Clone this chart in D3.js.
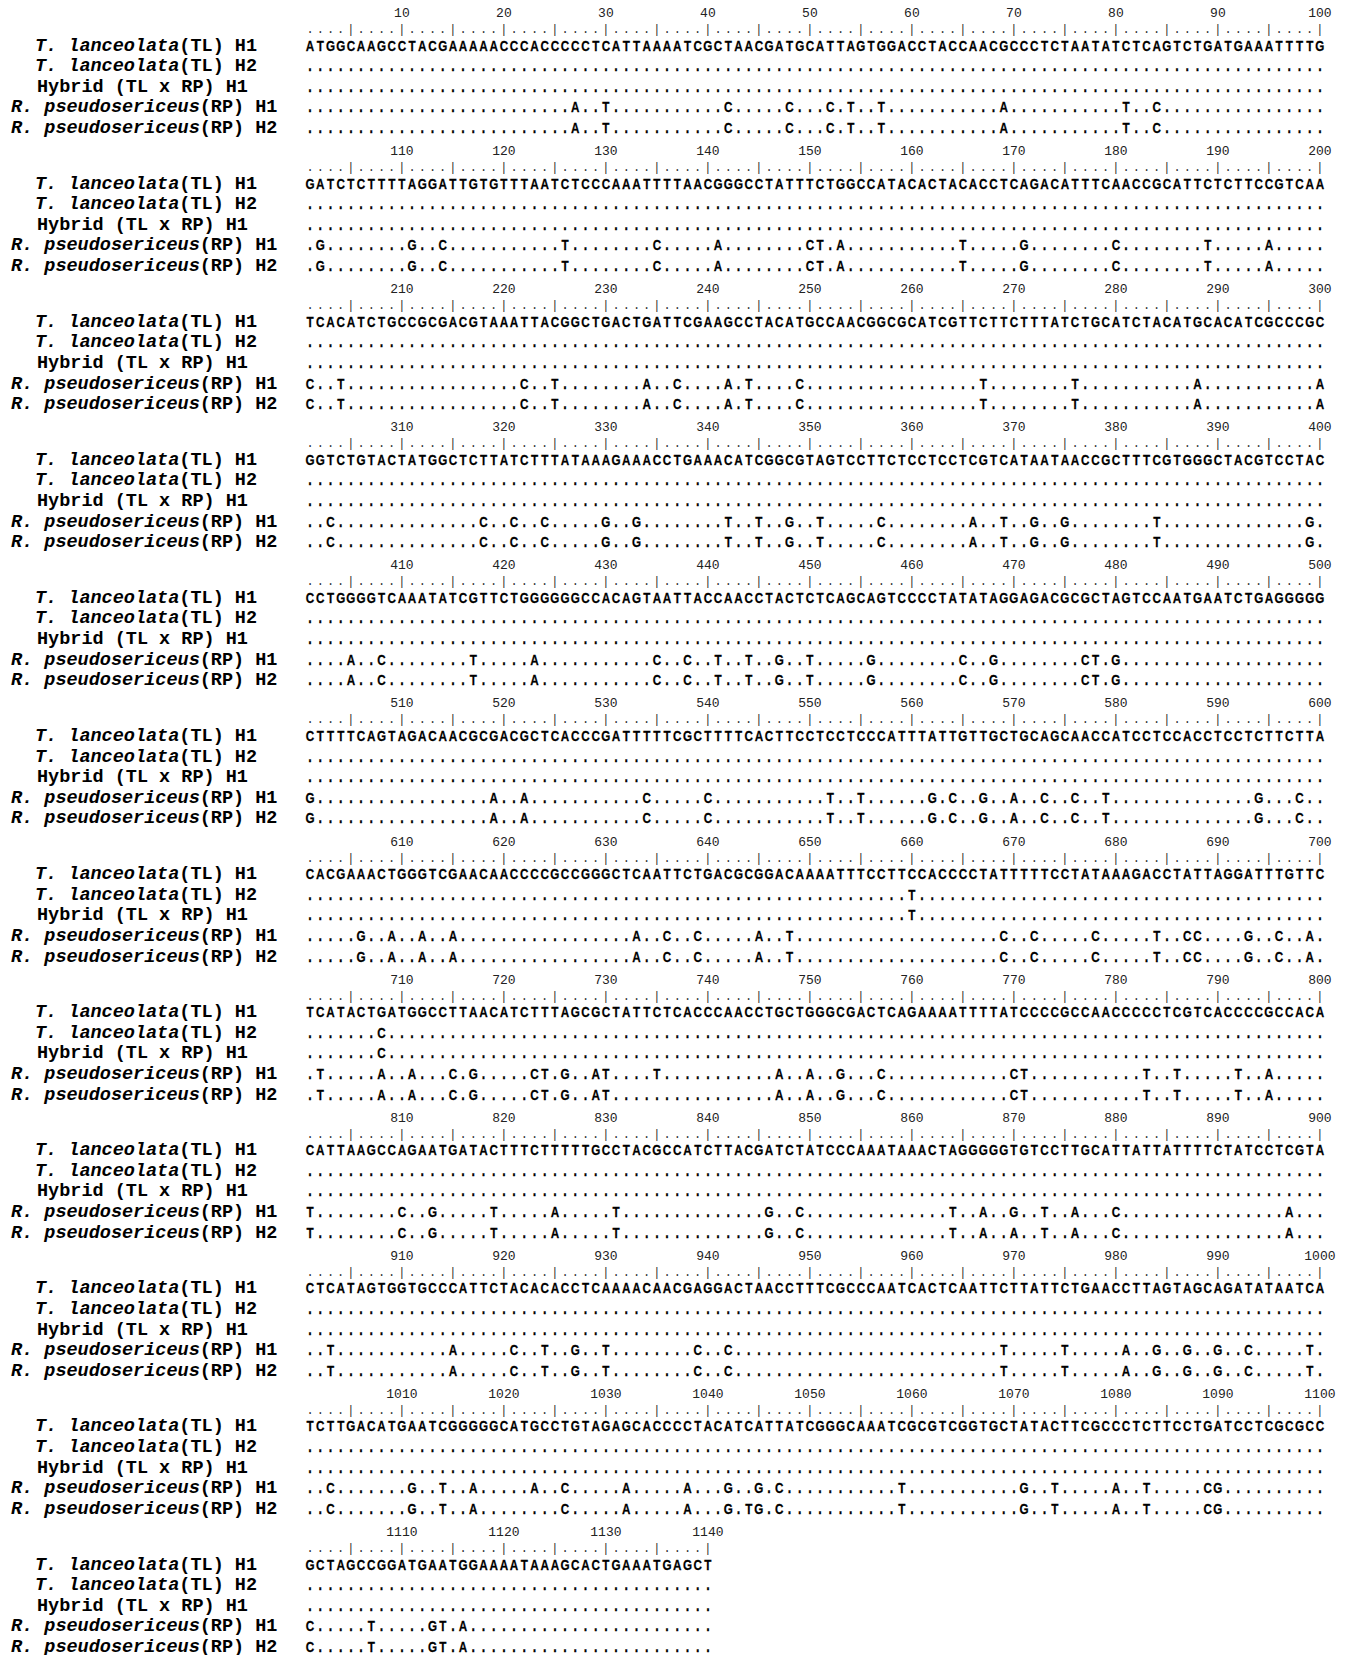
<!DOCTYPE html>
<html>
<head>
<meta charset="utf-8">
<script src="https://cdn.jsdelivr.net/npm/d3@7"></script>
<style>
  body { margin: 0; background: #fff; }
  svg { display: block; }
</style>
</head>
<body>
<div id="chart"></div>
<script>
/* reference sequence, T. lanceolata (TL) H1, one string per 100 bp block */
const referenceSeq = [
  "ATGGCAAGCCTACGAAAAACCCACCCCCTCATTAAAATCGCTAACGATGCATTAGTGGACCTACCAACGCCCTCTAATATCTCAGTCTGATGAAATTTTG",
  "GATCTCTTTTAGGATTGTGTTTAATCTCCCAAATTTTAACGGGCCTATTTCTGGCCATACACTACACCTCAGACATTTCAACCGCATTCTCTTCCGTCAA",
  "TCACATCTGCCGCGACGTAAATTACGGCTGACTGATTCGAAGCCTACATGCCAACGGCGCATCGTTCTTCTTTATCTGCATCTACATGCACATCGCCCGC",
  "GGTCTGTACTATGGCTCTTATCTTTATAAAGAAACCTGAAACATCGGCGTAGTCCTTCTCCTCCTCGTCATAATAACCGCTTTCGTGGGCTACGTCCTAC",
  "CCTGGGGTCAAATATCGTTCTGGGGGGCCACAGTAATTACCAACCTACTCTCAGCAGTCCCCTATATAGGAGACGCGCTAGTCCAATGAATCTGAGGGGG",
  "CTTTTCAGTAGACAACGCGACGCTCACCCGATTTTTCGCTTTTCACTTCCTCCTCCCATTTATTGTTGCTGCAGCAACCATCCTCCACCTCCTCTTCTTA",
  "CACGAAACTGGGTCGAACAACCCCGCCGGGCTCAATTCTGACGCGGACAAAATTTCCTTCCACCCCTATTTTTCCTATAAAGACCTATTAGGATTTGTTC",
  "TCATACTGATGGCCTTAACATCTTTAGCGCTATTCTCACCCAACCTGCTGGGCGACTCAGAAAATTTTATCCCCGCCAACCCCCTCGTCACCCCGCCACA",
  "CATTAAGCCAGAATGATACTTTCTTTTTGCCTACGCCATCTTACGATCTATCCCAAATAAACTAGGGGGTGTCCTTGCATTATTATTTTCTATCCTCGTA",
  "CTCATAGTGGTGCCCATTCTACACACCTCAAAACAACGAGGACTAACCTTTCGCCCAATCACTCAATTCTTATTCTGAACCTTAGTAGCAGATATAATCA",
  "TCTTGACATGAATCGGGGGCATGCCTGTAGAGCACCCCTACATCATTATCGGGCAAATCGCGTCGGTGCTATACTTCGCCCTCTTCCTGATCCTCGCGCC",
  "GCTAGCCGGATGAATGGAAAATAAAGCACTGAAATGAGCT"
];

/* row names */
const rowSpecies = ["T. lanceolata", "T. lanceolata", "", "R. pseudosericeus", "R. pseudosericeus"];
const rowTails   = ["(TL) H1", "(TL) H2", "Hybrid (TL x RP) H1", "(RP) H1", "(RP) H2"];

/* differences from the reference: [position, base] */
const tlH2Diffs = [[660, "T"], [708, "C"]];
const hybridDiffs = [[660, "T"], [708, "C"]];
const rpH1Diffs = [
  [27,"A"],[30,"T"],[42,"C"],[48,"C"],[52,"C"],[54,"T"],[57,"T"],[69,"A"],[81,"T"],[84,"C"],
  [102,"G"],[111,"G"],[114,"C"],[126,"T"],[135,"C"],[141,"A"],[150,"C"],[151,"T"],[153,"A"],[165,"T"],[171,"G"],[180,"C"],[189,"T"],[195,"A"],
  [201,"C"],[204,"T"],[222,"C"],[225,"T"],[234,"A"],[237,"C"],[242,"A"],[244,"T"],[249,"C"],[267,"T"],[276,"T"],[288,"A"],[300,"A"],
  [303,"C"],[318,"C"],[321,"C"],[324,"C"],[330,"G"],[333,"G"],[342,"T"],[345,"T"],[348,"G"],[351,"T"],[357,"C"],[366,"A"],[369,"T"],[372,"G"],[375,"G"],[384,"T"],[399,"G"],
  [405,"A"],[408,"C"],[417,"T"],[423,"A"],[435,"C"],[438,"C"],[441,"T"],[444,"T"],[447,"G"],[450,"T"],[456,"G"],[465,"C"],[468,"G"],[477,"C"],[478,"T"],[480,"G"],
  [501,"G"],[519,"A"],[522,"A"],[534,"C"],[540,"C"],[552,"T"],[555,"T"],[562,"G"],[564,"C"],[567,"G"],[570,"A"],[573,"C"],[576,"C"],[579,"T"],[594,"G"],[598,"C"],
  [606,"G"],[609,"A"],[612,"A"],[615,"A"],[633,"A"],[636,"C"],[639,"C"],[645,"A"],[648,"T"],[669,"C"],[672,"C"],[678,"C"],[684,"T"],[687,"C"],[688,"C"],[693,"G"],[696,"C"],[699,"A"],
  [702,"T"],[708,"A"],[711,"A"],[715,"C"],[717,"G"],[723,"C"],[724,"T"],[726,"G"],[729,"A"],[730,"T"],[735,"T"],[747,"A"],[750,"A"],[753,"G"],[757,"C"],[770,"C"],[771,"T"],[783,"T"],[786,"T"],[792,"T"],[795,"A"],
  [801,"T"],[810,"C"],[813,"G"],[819,"T"],[825,"A"],[831,"T"],[846,"G"],[849,"C"],[864,"T"],[867,"A"],[870,"G"],[873,"T"],[876,"A"],[880,"C"],[897,"A"],
  [903,"T"],[915,"A"],[921,"C"],[924,"T"],[927,"G"],[930,"T"],[939,"C"],[942,"C"],[969,"T"],[975,"T"],[981,"A"],[984,"G"],[987,"G"],[990,"G"],[993,"C"],[999,"T"],
  [1003,"C"],[1011,"G"],[1014,"T"],[1017,"A"],[1023,"A"],[1026,"C"],[1032,"A"],[1038,"A"],[1042,"G"],[1045,"G"],[1047,"C"],[1059,"T"],[1071,"G"],[1074,"T"],[1080,"A"],[1083,"T"],[1089,"C"],[1090,"G"],
  [1101,"C"],[1107,"T"],[1113,"G"],[1114,"T"],[1116,"A"]
];
/* RP H2 differs from RP H1 at a few sites */
const rpH2Only = [[870, "A"], [1044, "T"]];
const rpH2Missing = [735, 1023];

const blockSize = 100;

/* ---------- layout ---------- */
const W = 1347, H = 1655;
const svg = d3.select("#chart").append("svg")
  .attr("width", W)
  .attr("height", H);

const x = d3.scaleBand()
  .domain(d3.range(1, blockSize + 1))
  .range([305, 1325]);
const cx = (p) => x(p) + x.bandwidth() / 2;

const blockY = d3.scaleLinear().domain([0, 11]).range([12, 1531]);
const rowY = d3.scaleLinear().domain([0, 4]).range([38.5, 121]);

/* build the five rows as maps position -> base */
const rpH2Diffs = rpH1Diffs
  .filter(d => !rpH2Missing.includes(d[0]) && !rpH2Only.some(o => o[0] === d[0]))
  .concat(rpH2Only);
const diffMaps = [null, tlH2Diffs, hybridDiffs, rpH1Diffs, rpH2Diffs]
  .map(list => list ? new Map(list) : null);

const labelX = [35, 35, 37, 11, 11];

const blocks = referenceSeq.map((seq, b) => ({ b, start: b * blockSize, seq }));

const blockG = svg.selectAll("g.block")
  .data(blocks)
  .enter()
  .append("g")
    .attr("class", "block")
    .attr("transform", d => `translate(0,${blockY(d.b)})`);

/* position numbers */
blockG.selectAll("text.num")
  .data(d => d3.range(10, d.seq.length + 1, 10).map(p => ({ p, label: d.start + p })))
  .enter()
  .append("text")
    .attr("class", "num")
    .attr("x", d => cx(d.p))
    .attr("y", 5)
    .attr("text-anchor", "middle")
    .attr("font-family", "'Liberation Mono', monospace")
    .attr("font-size", "13px")
    .attr("fill", "#222")
    .text(d => d.label);

/* ruler ....|....| */
blockG.selectAll("text.ruler")
  .data(d => d3.range(1, d.seq.length + 1))
  .enter()
  .append("text")
    .attr("class", "ruler")
    .attr("x", p => cx(p))
    .attr("y", 21)
    .attr("text-anchor", "middle")
    .attr("font-family", "'Liberation Mono', monospace")
    .attr("font-size", "12px")
    .attr("fill", "#333")
    .text(p => p % 5 === 0 ? "|" : ".");

/* sequence rows */
const rowG = blockG.selectAll("g.row")
  .data(d => d3.range(5).map(r => ({ r, block: d })))
  .enter()
  .append("g")
    .attr("class", "row")
    .attr("transform", d => `translate(0,${rowY(d.r)})`);

rowG.selectAll("text.base")
  .data(d => Array.from(d.block.seq, (ch, i) => {
    const pos = d.block.start + i + 1;
    let c = ch;
    if (d.r > 0) c = diffMaps[d.r].has(pos) ? diffMaps[d.r].get(pos) : ".";
    return { p: i + 1, c };
  }))
  .enter()
  .append("text")
    .attr("class", "base")
    .attr("transform", d => `translate(${cx(d.p)},0) scale(0.78,1)`)
    .attr("text-anchor", "middle")
    .attr("font-family", "'Liberation Sans', Arial, sans-serif")
    .attr("font-weight", "bold")
    .attr("font-size", d => d.c === "." ? "16px" : "15px")
    .attr("fill", "#000")
    .attr("stroke", "#000")
    .attr("stroke-width", 0.25)
    .text(d => d.c);

/* row labels */
const labels = rowG.append("text")
  .attr("x", d => labelX[d.r])
  .attr("y", 0)
  .attr("font-family", "'Liberation Mono', monospace")
  .attr("font-weight", "bold")
  .attr("font-size", "18.5px")
  .attr("fill", "#000");

labels.append("tspan")
  .attr("font-style", "italic")
  .text(d => rowSpecies[d.r]);
labels.append("tspan")
  .text(d => rowTails[d.r]);
</script>
</body>
</html>
